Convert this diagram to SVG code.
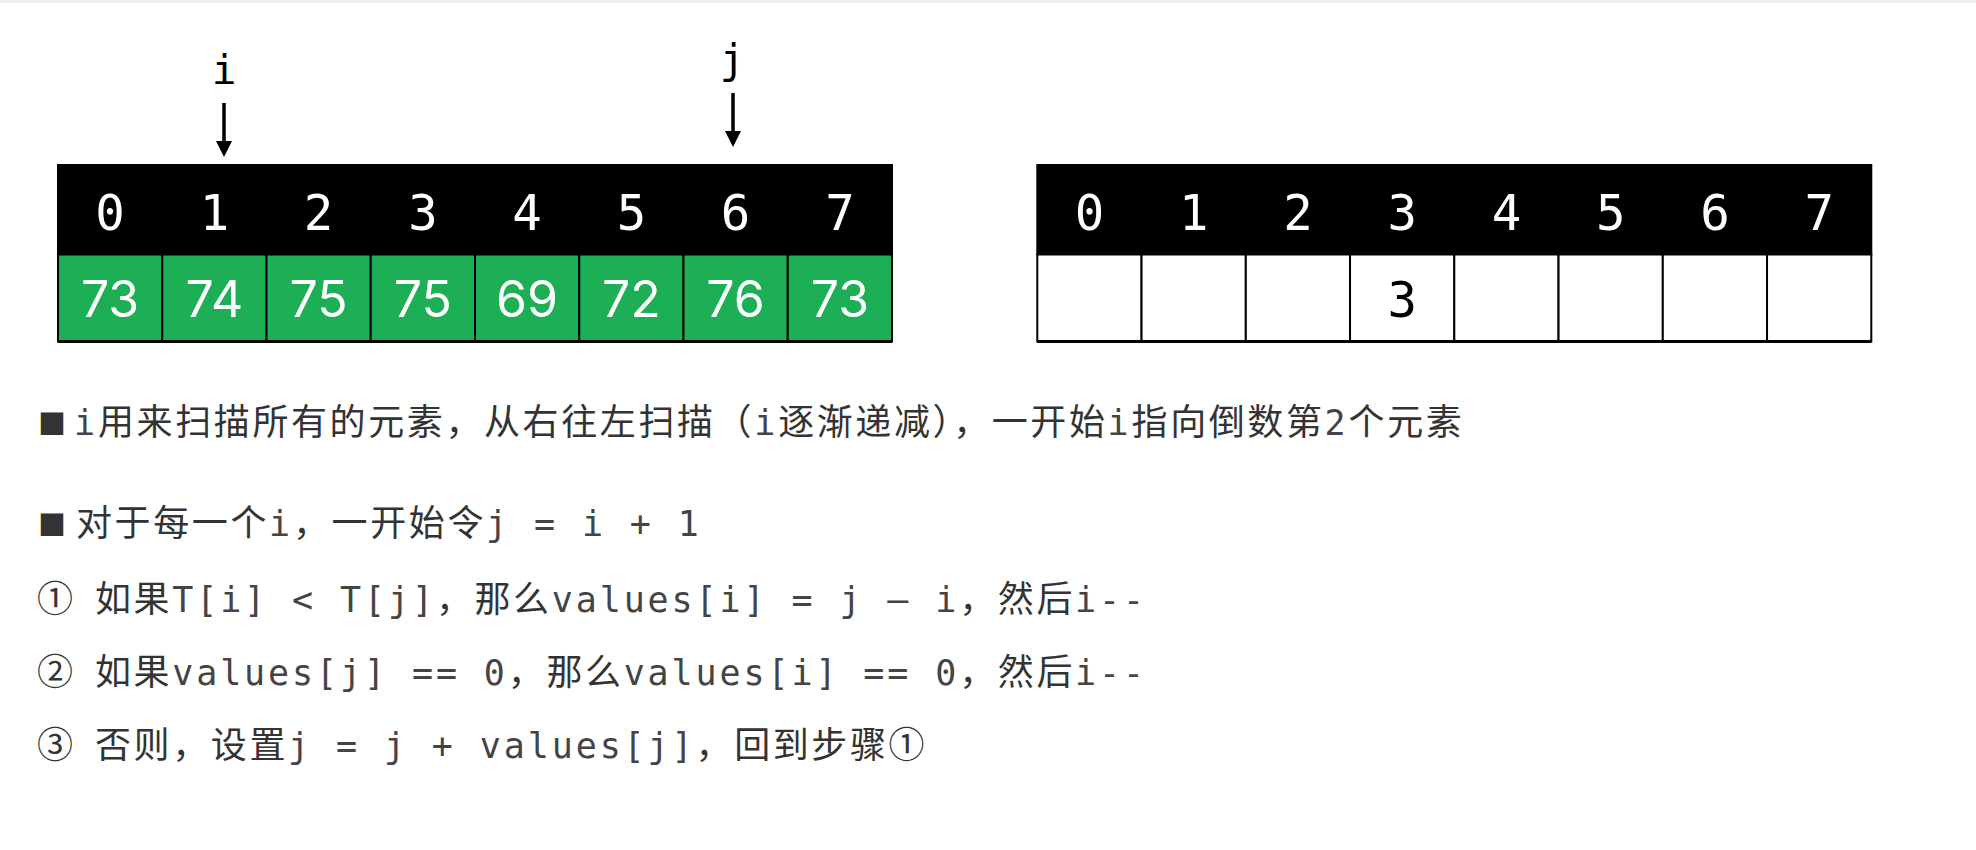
<svg xmlns="http://www.w3.org/2000/svg" width="1976" height="850" viewBox="0 0 1976 850">
<defs>
<style>
.hd{fill:#000;stroke:#000;stroke-width:2}
.gv{fill:#1DAF55;stroke:#000;stroke-width:2}
.wv{fill:#fff;stroke:#000;stroke-width:2}
.hn{font-family:"DejaVu Sans Mono",monospace;font-size:49px;fill:#fff;text-anchor:middle}
.gn{font-family:"Inter","DejaVu Sans",sans-serif;font-size:50px;fill:#fff;text-anchor:middle}
.bn{font-family:"DejaVu Sans Mono",monospace;font-size:49px;fill:#000;text-anchor:middle}
.lbl{font-family:"DejaVu Sans Mono",monospace;font-size:41px;fill:#000;text-anchor:middle}
.c{font-family:"Noto Sans CJK SC",sans-serif;font-size:36px;letter-spacing:2.6px;fill:#333}
.m{font-family:"DejaVu Sans Mono",monospace;font-size:35px;letter-spacing:2.9px;fill:#444}
.bul{font-family:"Noto Sans CJK SC",sans-serif;font-size:28px;fill:#333}
.arr{stroke:#000;stroke-width:3.5;fill:none}
.head{fill:#000}
</style>
</defs>
<rect x="0" y="0" width="1976" height="850" fill="#fff"/>
<rect x="0" y="0" width="1976" height="3" fill="#f0f0f0"/>

<g id="label-i"><text class="lbl" x="224" y="84">i</text></g>
<g id="label-j"><text class="lbl" x="732" y="73">j</text></g>

<g id="connectors">
<path class="arr" d="M224,103 L224,144"/>
<polygon class="head" points="216,141 232,141 224,157"/>
<path class="arr" d="M733,93 L733,134"/>
<polygon class="head" points="725,131 741,131 733,147"/>
</g>

<g id="left-array">
<g id="L0"><rect class="hd" x="58" y="165" width="104.25" height="89.5"/><rect class="gv" x="58" y="254.5" width="104.25" height="87"/><text class="hn" x="110.1" y="229.5">0</text><text class="gn" x="110.1" y="317">73</text></g>
<g id="L1"><rect class="hd" x="162.25" y="165" width="104.25" height="89.5"/><rect class="gv" x="162.25" y="254.5" width="104.25" height="87"/><text class="hn" x="214.4" y="229.5">1</text><text class="gn" x="214.4" y="317">74</text></g>
<g id="L2"><rect class="hd" x="266.5" y="165" width="104.25" height="89.5"/><rect class="gv" x="266.5" y="254.5" width="104.25" height="87"/><text class="hn" x="318.6" y="229.5">2</text><text class="gn" x="318.6" y="317">75</text></g>
<g id="L3"><rect class="hd" x="370.75" y="165" width="104.25" height="89.5"/><rect class="gv" x="370.75" y="254.5" width="104.25" height="87"/><text class="hn" x="422.9" y="229.5">3</text><text class="gn" x="422.9" y="317">75</text></g>
<g id="L4"><rect class="hd" x="475" y="165" width="104.25" height="89.5"/><rect class="gv" x="475" y="254.5" width="104.25" height="87"/><text class="hn" x="527.1" y="229.5">4</text><text class="gn" x="527.1" y="317">69</text></g>
<g id="L5"><rect class="hd" x="579.25" y="165" width="104.25" height="89.5"/><rect class="gv" x="579.25" y="254.5" width="104.25" height="87"/><text class="hn" x="631.4" y="229.5">5</text><text class="gn" x="631.4" y="317">72</text></g>
<g id="L6"><rect class="hd" x="683.5" y="165" width="104.25" height="89.5"/><rect class="gv" x="683.5" y="254.5" width="104.25" height="87"/><text class="hn" x="735.6" y="229.5">6</text><text class="gn" x="735.6" y="317">76</text></g>
<g id="L7"><rect class="hd" x="787.75" y="165" width="104.25" height="89.5"/><rect class="gv" x="787.75" y="254.5" width="104.25" height="87"/><text class="hn" x="839.9" y="229.5">7</text><text class="gn" x="839.9" y="317">73</text></g>
<line x1="58" y1="341.5" x2="892" y2="341.5" stroke="#000" stroke-width="3"/>
</g>

<g id="right-array">
<g id="R0"><rect class="hd" x="1037.3" y="165" width="104.25" height="89.5"/><rect class="wv" x="1037.3" y="254.5" width="104.25" height="87"/><text class="hn" x="1089.4" y="229.5">0</text></g>
<g id="R1"><rect class="hd" x="1141.55" y="165" width="104.25" height="89.5"/><rect class="wv" x="1141.55" y="254.5" width="104.25" height="87"/><text class="hn" x="1193.7" y="229.5">1</text></g>
<g id="R2"><rect class="hd" x="1245.8" y="165" width="104.25" height="89.5"/><rect class="wv" x="1245.8" y="254.5" width="104.25" height="87"/><text class="hn" x="1297.9" y="229.5">2</text></g>
<g id="R3"><rect class="hd" x="1350.05" y="165" width="104.25" height="89.5"/><rect class="wv" x="1350.05" y="254.5" width="104.25" height="87"/><text class="hn" x="1402.2" y="229.5">3</text><text class="bn" x="1402.2" y="317">3</text></g>
<g id="R4"><rect class="hd" x="1454.3" y="165" width="104.25" height="89.5"/><rect class="wv" x="1454.3" y="254.5" width="104.25" height="87"/><text class="hn" x="1506.4" y="229.5">4</text></g>
<g id="R5"><rect class="hd" x="1558.55" y="165" width="104.25" height="89.5"/><rect class="wv" x="1558.55" y="254.5" width="104.25" height="87"/><text class="hn" x="1610.7" y="229.5">5</text></g>
<g id="R6"><rect class="hd" x="1662.8" y="165" width="104.25" height="89.5"/><rect class="wv" x="1662.8" y="254.5" width="104.25" height="87"/><text class="hn" x="1714.9" y="229.5">6</text></g>
<g id="R7"><rect class="hd" x="1767.05" y="165" width="104.25" height="89.5"/><rect class="wv" x="1767.05" y="254.5" width="104.25" height="87"/><text class="hn" x="1819.2" y="229.5">7</text></g>
<line x1="1037.3" y1="341.5" x2="1871.3" y2="341.5" stroke="#000" stroke-width="3"/>
</g>

<g id="text-1"><text y="435"><tspan class="bul" x="38">■</tspan><tspan class="m" x="74">i</tspan><tspan class="c">用来扫描所有的元素，从右往左扫描（</tspan><tspan class="m">i</tspan><tspan class="c">逐渐递减），一开始</tspan><tspan class="m">i</tspan><tspan class="c">指向倒数第</tspan><tspan class="m">2</tspan><tspan class="c">个元素</tspan></text></g>

<g id="text-2"><text y="536"><tspan class="bul" x="38">■</tspan><tspan class="c" x="76">对于每一个</tspan><tspan class="m">i</tspan><tspan class="c">，一开始令</tspan><tspan class="m">j = i + 1</tspan></text></g>

<g id="text-3"><text y="612"><tspan class="c" x="37">① </tspan><tspan class="c" x="95">如果</tspan><tspan class="m">T[i] &lt; T[j]</tspan><tspan class="c">，那么</tspan><tspan class="m">values[i] = j – i</tspan><tspan class="c">，然后</tspan><tspan class="m">i--</tspan></text></g>

<g id="text-4"><text y="685"><tspan class="c" x="37">② </tspan><tspan class="c" x="95">如果</tspan><tspan class="m">values[j] == 0</tspan><tspan class="c">，那么</tspan><tspan class="m">values[i] == 0</tspan><tspan class="c">，然后</tspan><tspan class="m">i--</tspan></text></g>

<g id="text-5"><text y="758"><tspan class="c" x="37">③ </tspan><tspan class="c" x="95">否则，设置</tspan><tspan class="m">j = j + values[j]</tspan><tspan class="c">，回到步骤①</tspan></text></g>
</svg>
